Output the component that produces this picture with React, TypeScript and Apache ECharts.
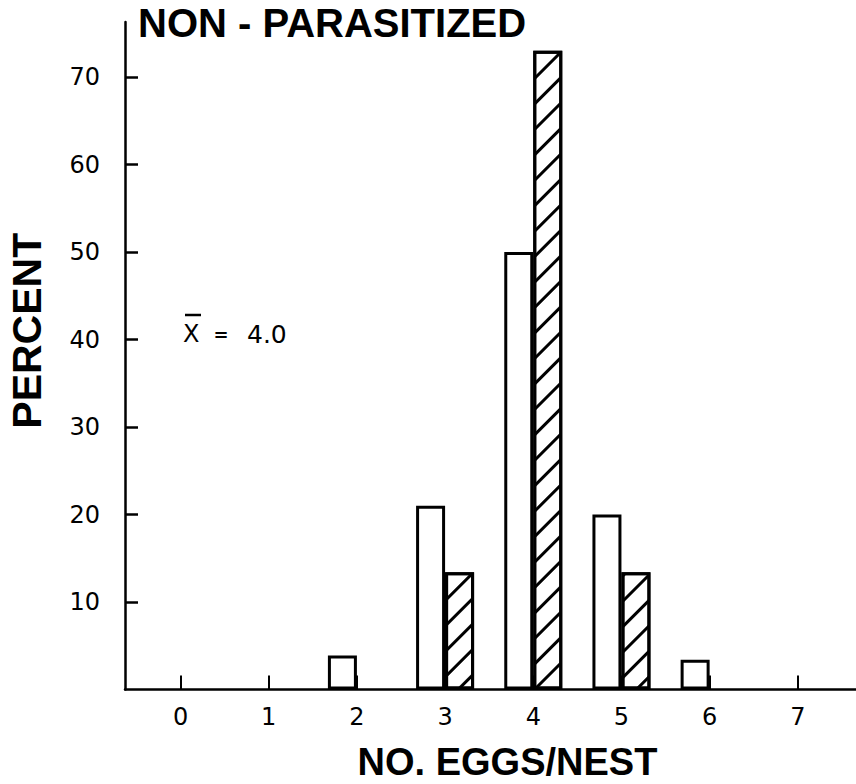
import React, { useEffect, useRef } from "react";
import * as echarts from "echarts";

const xTicks = [0, 1, 2, 3, 4, 5, 6, 7];
const yTicks = [10, 20, 30, 40, 50, 60, 70];
const openBars: [number, number][] = [
  [2, 3.9],
  [3, 21],
  [4, 50],
  [5, 20],
  [6, 3.4],
];
const hatchedBars: [number, number][] = [
  [3, 13.4],
  [4, 73],
  [5, 13.4],
];
const titleText = "NON - PARASITIZED";
const xName = "NO. EGGS/NEST";
const yName = "PERCENT";
const meanText = "4.0";

const BOLD = "Liberation Sans";
const REG = "DejaVu Sans";

export default function App() {
  const ref = useRef<HTMLDivElement>(null);
  useEffect(() => {
    if (!ref.current) return;
    const chart = echarts.init(ref.current, null, { renderer: "svg" });
    chart.setOption({
      animation: false,
      backgroundColor: "#fff",
      title: {
        text: titleText,
        left: 138,
        top: 3,
        padding: 0,
        textStyle: { fontFamily: BOLD, fontWeight: "bold", fontSize: 40, color: "#000" },
      },
      grid: {
        left: 125,
        right: 0,
        top: 22,
        bottom: 94.5,
        containLabel: false,
        outerBoundsMode: "none",
      },
      xAxis: {
        type: "value",
        min: -0.63,
        max: 7.66,
        name: xName,
        nameLocation: "middle",
        nameGap: 53,
        nameTextStyle: {
          fontFamily: BOLD,
          fontWeight: "bold",
          fontSize: 38,
          lineHeight: 38,
          color: "#000",
          padding: [0, 0, 0, 34],
        },
        splitLine: { show: false },
        axisLine: { show: true, lineStyle: { color: "#000", width: 2.5 } },
        axisTick: {
          show: true,
          inside: true,
          length: 14,
          customValues: xTicks,
          lineStyle: { color: "#000", width: 2 },
        },
        axisLabel: {
          customValues: xTicks,
          margin: 15,
          fontFamily: REG,
          fontSize: 24,
          color: "#000",
        },
      },
      yAxis: {
        type: "value",
        min: 0,
        max: 76.3,
        name: yName,
        nameLocation: "middle",
        nameGap: 78,
        nameRotate: 90,
        nameTextStyle: {
          fontFamily: BOLD,
          fontWeight: "bold",
          fontSize: 41,
          color: "#000",
          padding: [0, 0, 0, 50],
        },
        splitLine: { show: false },
        axisLine: { show: true, onZero: false, lineStyle: { color: "#000", width: 2.5 } },
        axisTick: {
          show: true,
          inside: true,
          length: 13,
          customValues: yTicks,
          lineStyle: { color: "#000", width: 2.5 },
        },
        axisLabel: {
          customValues: yTicks,
          margin: 25,
          fontFamily: REG,
          fontSize: 24,
          color: "#000",
        },
      },
      series: [
        {
          type: "bar",
          data: openBars,
          barWidth: 29,
          barGap: "0%",
          itemStyle: { color: "#fff", borderColor: "#000", borderWidth: 3 },
        },
        {
          type: "bar",
          data: hatchedBars,
          barWidth: 29,
          barGap: "0%",
          itemStyle: {
            color: "#fff",
            borderColor: "#000",
            borderWidth: 3,
            decal: {
              symbol: "rect",
              symbolSize: 1,
              dashArrayX: [1, 0],
              dashArrayY: [2.5, 15],
              rotation: -Math.PI / 4,
              color: "#000",
            },
          },
        },
      ],
      graphic: [
        {
          type: "text",
          x: 183,
          y: 334,
          style: { text: "X", fontFamily: REG, fontSize: 24, fill: "#000", verticalAlign: "middle" },
        },
        {
          type: "line",
          shape: { x1: 185, y1: 315, x2: 201, y2: 315 },
          style: { stroke: "#000", lineWidth: 2.5 },
        },
        {
          type: "text",
          x: 221,
          y: 334,
          style: { text: "=", fontFamily: REG, fontWeight: "bold", fontSize: 18, fill: "#000", align: "center", verticalAlign: "middle" },
        },
        {
          type: "text",
          x: 247,
          y: 334,
          style: { text: meanText, fontFamily: REG, fontSize: 25, fill: "#000", verticalAlign: "middle" },
        },
      ],
    });
    return () => chart.dispose();
  }, []);
  return (
    <div
      ref={ref}
      style={{ position: "fixed", left: 0, top: 0, width: 856, height: 784 }}
    />
  );
}
